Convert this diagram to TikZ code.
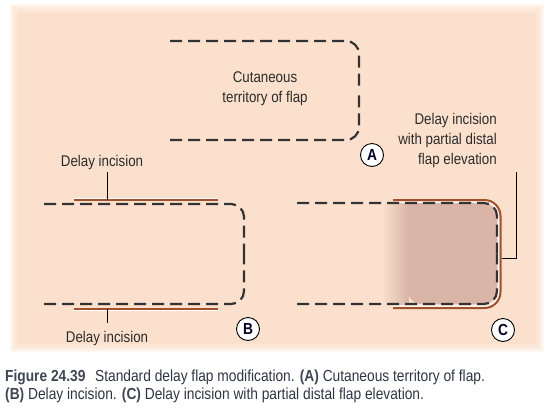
\documentclass[tikz,border=0pt]{standalone}
\usepackage{fontspec}
\setmainfont{Liberation Sans}[FakeStretch=0.86]
\usetikzlibrary{calc}
\definecolor{bg}{HTML}{FAE0CD}
\definecolor{bglight}{HTML}{FCE8DA}
\definecolor{shadecol}{HTML}{D9B4A7}
\definecolor{redline}{HTML}{A2512F}
\definecolor{dashcol}{HTML}{333333}
\definecolor{txt}{HTML}{2C2C2C}
\definecolor{captb}{HTML}{3E4654}
\definecolor{capt}{HTML}{2E3542}
\tikzset{
  incision/.style={draw=dashcol, line width=2.2pt, dash pattern=on 12pt off 6pt, rounded corners=13pt},
  delayline/.style={draw=redline, line width=2pt},
  highlight/.style={draw=white, line width=1pt},
  leader/.style={draw=black, line width=0.7pt},
  lbl/.style={font=\fontsize{15.5}{20}\selectfont, text=txt, inner sep=0pt},
  letter/.style={circle, draw=black, line width=0.9pt, fill=white, minimum size=23pt, inner sep=0pt, font=\bfseries\fontsize{16}{16}\selectfont, text=black!85!blue},
  caption/.style={font=\fontsize{16}{18}\selectfont, text=capt, inner sep=0pt, align=left}
}
\begin{document}
\begin{tikzpicture}[x=1pt,y=-1pt]
\useasboundingbox (0,0) rectangle (547,416);
% background panel with soft edges
\foreach \i in {0,...,7}
  \fill[bg,opacity=0.2] ({10+\i},{4+\i}) rectangle ({544-\i},{352-\i});
\fill[bg] (18,12) rectangle (536,344);
% subtle lighter areas (soft)
\foreach \i in {0,...,7}
  \fill[bglight,opacity=0.07] ({172+3*\i},{42+3*\i}) rectangle ({357-3*\i},{138-3*\i});
\foreach \i in {0,...,7}
  \fill[bglight,opacity=0.07] ({52+3*\i},{212+3*\i}) rectangle ({232-3*\i},{296-3*\i});

% ---------- Panel A ----------
\coordinate (a1) at (170,41);
\coordinate (a2) at (359,41);
\coordinate (a3) at (359,140);
\coordinate (a4) at (170,140);
\coordinate (am) at (359,90.5);
\draw[incision] (a1) -- (a2) -- (am);
\draw[incision] (a4) -- (a3) -- (am);
\node[lbl, align=center, anchor=north] (lblA) at (265,71) {Cutaneous\\territory of flap};
\node[letter] (cA) at (372,155) {A};

% ---------- Panel B ----------
\coordinate (b1) at (44,204);
\coordinate (b2) at (244,204);
\coordinate (b3) at (244,304);
\coordinate (b4) at (44,304);
\coordinate (bm) at (244,254);
\draw[incision] (b1) -- (b2) -- (bm);
\draw[incision] (b4) -- (b3) -- (bm);
\coordinate (bt1) at (74,200);
\coordinate (bt2) at (218,200);
\coordinate (bb1) at (74,308.5);
\coordinate (bb2) at (218,308.5);
\draw[highlight] ($(bt1)+(-1,-1.8)$) -- ($(bt2)+(0,-1.8)$);
\draw[highlight] ($(bb1)+(-1,1.8)$) -- ($(bb2)+(0,1.8)$);
\draw[delayline] (bt1) -- (bt2);
\draw[delayline] (bb1) -- (bb2);
\node[lbl, anchor=base] (lblBt) at (102,166) {Delay incision};
\node[lbl, anchor=base] (lblBb) at (107,342) {Delay incision};
\coordinate (btl) at (107,200);
\coordinate (bbl) at (107,308.5);
\draw[leader] (btl) -- (107,172);
\draw[leader] (bbl) -- (107,323);
\node[letter] (cB) at (248,329) {B};

% ---------- Panel C ----------
\fill[shadecol, rounded corners=13pt] (408,203) -- (497,203) -- (497,304) -- (408,304) [sharp corners] -- cycle;
\shade[left color=bg, right color=shadecol] (382,203) rectangle (408.5,304);
\coordinate (c1) at (297,203);
\coordinate (c2) at (497,203);
\coordinate (c3) at (497,304);
\coordinate (c4) at (297,304);
\coordinate (cm) at (497,253.5);
\coordinate (r1) at (393,200);
\coordinate (r2) at (500.5,200);
\coordinate (r3) at (500.5,308);
\coordinate (r4) at (393,308);
\draw[highlight, rounded corners=14pt] ($(r1)+(0,2)$) -- ($(r2)+(-2,2)$) -- ($(r3)+(-2,-2)$) -- ($(r4)+(0,-2)$);
\draw[incision] (c1) -- (c2) -- (cm);
\draw[incision] (c4) -- (c3) -- (cm);
\draw[delayline, rounded corners=16pt] (r1) -- (r2) -- (r3) -- (r4);
\node[lbl, align=right, anchor=north east] (lblC) at (497,113) {Delay incision\\with partial distal\\flap elevation};
\coordinate (cl) at (501.5,258);
\draw[leader] (cl) -- (516,258) -- (516,172);
\node[letter] (cC) at (503,330) {C};

% ---------- Caption ----------
\node[caption, anchor=north west] (cap) at (5,370) {{\bfseries\color{captb}Figure 24.39}\hspace{0.6em}Standard delay flap modification. {\bfseries\color{captb}(A)} Cutaneous territory of flap.\\{\bfseries\color{captb}(B)} Delay incision. {\bfseries\color{captb}(C)} Delay incision with partial distal flap elevation.};
\end{tikzpicture}
\end{document}
